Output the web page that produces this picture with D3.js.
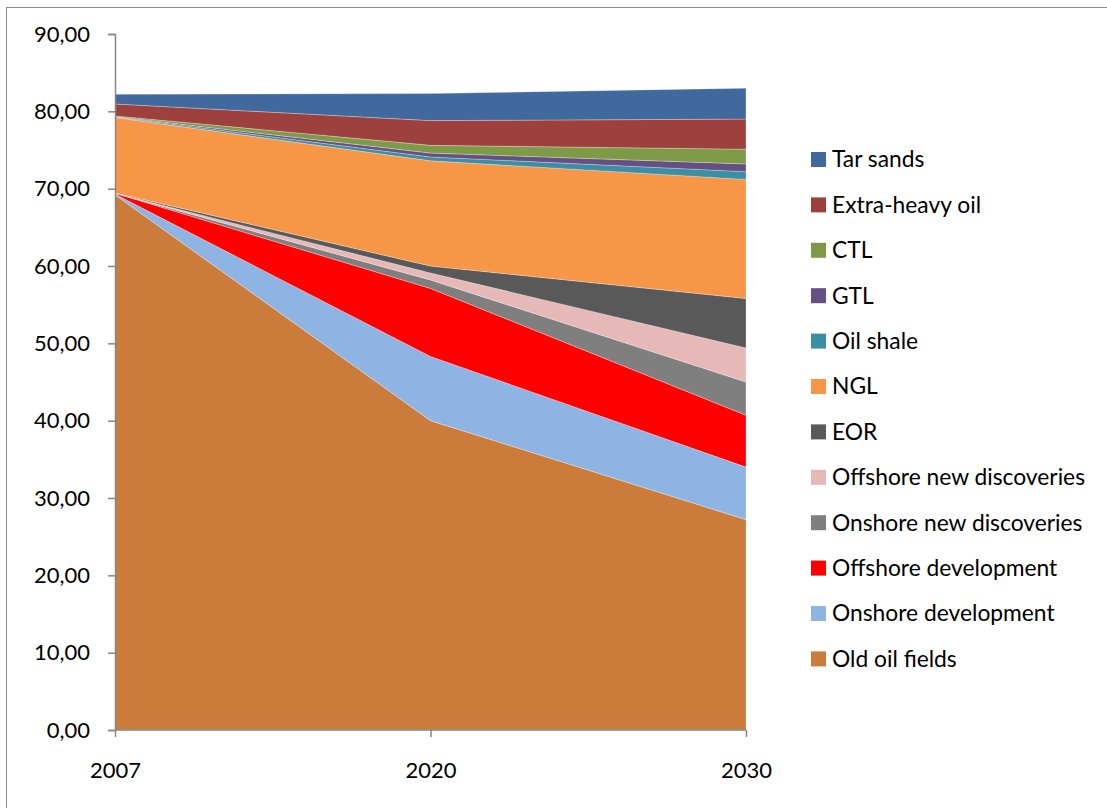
<!DOCTYPE html>
<html>
<head>
<meta charset="utf-8">
<script src="https://cdn.jsdelivr.net/npm/d3@7"></script>
<style>
  html, body { margin: 0; padding: 0; background: #fff; }
  svg { display: block; font-family: Lato, "Open Sans", "Liberation Sans", sans-serif; }
</style>
</head>
<body>
<svg id="chart" width="1107" height="808"></svg>
<script>
// Years on the category axis
const years = ["2007", "2020", "2030"];

// Series, bottom of the stack first (million barrels per day)
const seriesNames = [
  "Old oil fields", "Onshore development", "Offshore development",
  "Onshore new discoveries", "Offshore new discoveries", "EOR", "NGL",
  "Oil shale", "GTL", "CTL", "Extra-heavy oil", "Tar sands"
];

const oldOilFields          = [69.2, 40.0, 27.2];
const onshoreDevelopment    = [0.1, 8.3, 6.8];
const offshoreDevelopment   = [0.1, 8.8, 6.7];
const onshoreNewDiscoveries = [0.0, 1.1, 4.3];
const offshoreNewDiscoveries= [0.0, 0.9, 4.4];
const eor                   = [0.05, 0.9, 6.4];
const ngl                   = [9.75, 13.6, 15.4];
const oilShale              = [0.07, 0.5, 1.0];
const gtl                   = [0.05, 0.5, 1.0];
const ctl                   = [0.08, 1.0, 1.9];
const extraHeavyOil         = [1.55, 3.2, 3.9];
const tarSands              = [1.25, 3.5, 4.0];

const seriesValues = [
  oldOilFields, onshoreDevelopment, offshoreDevelopment, onshoreNewDiscoveries,
  offshoreNewDiscoveries, eor, ngl, oilShale, gtl, ctl, extraHeavyOil, tarSands
];

const seriesColors = [
  "#CB7B3A", "#8EB4E3", "#FF0000", "#7F7F7F", "#E6B9B8", "#595959",
  "#F79646", "#3C8EA4", "#654F83", "#7F9A47", "#9E403D", "#40699D"
];

const yTicks = [0, 10, 20, 30, 40, 50, 60, 70, 80, 90];

// Rows for d3.stack
const rows = years.map((yr, i) => {
  const r = { year: yr };
  seriesNames.forEach((n, k) => { r[n] = seriesValues[k][i]; });
  return r;
});

const svg = d3.select("#chart");

// Chart frame
svg.append("rect")
  .attr("x", 6.5).attr("y", 7.5)
  .attr("width", 1120).attr("height", 820)
  .attr("fill", "none").attr("stroke", "#8c8c8c").attr("stroke-width", 1);

const plot = { left: 115, right: 746, top: 34, bottom: 730 };

const x = d3.scalePoint().domain(years).range([plot.left, plot.right]);
const y = d3.scaleLinear().domain([0, 90]).range([plot.bottom, plot.top]);

const stacked = d3.stack().keys(seriesNames)(rows);

const area = d3.area()
  .x(d => x(d.data.year))
  .y0(d => y(d[0]))
  .y1(d => y(d[1]));

svg.append("g").selectAll("path")
  .data(stacked)
  .join("path")
  .attr("d", area)
  .attr("fill", (d, i) => seriesColors[i])
  .attr("stroke", "rgba(255,255,255,0.35)")
  .attr("stroke-width", 0.8);

// Y axis
const fmt = v => v.toFixed(2).replace(".", ",");
const yAxis = svg.append("g")
  .attr("transform", `translate(${plot.left},0)`)
  .call(d3.axisLeft(y).tickValues(yTicks).tickFormat(fmt).tickSize(7).tickPadding(18));
yAxis.selectAll("path, line").attr("stroke", "#868686").attr("stroke-width", 1.5);
yAxis.selectAll("text").attr("font-size", 22).attr("fill", "#000")
  .attr("font-family", "Lato, 'Open Sans', sans-serif");

// X axis
const xAxis = svg.append("g")
  .attr("transform", `translate(0,${plot.bottom})`)
  .call(d3.axisBottom(x).tickSize(7).tickPadding(25));
xAxis.select("path").attr("d", `M${plot.left},0H${plot.right}`);
xAxis.selectAll("path, line").attr("stroke", "#868686").attr("stroke-width", 1.5);
xAxis.selectAll("text").attr("font-size", 22).attr("fill", "#000")
  .attr("font-family", "Lato, 'Open Sans', sans-serif");

// Legend, top of the stack first
const legendItems = seriesNames.map((n, i) => ({ name: n, color: seriesColors[i] })).reverse();
const legend = svg.append("g").attr("transform", "translate(811,152)");
const item = legend.selectAll("g")
  .data(legendItems)
  .join("g")
  .attr("transform", (d, i) => `translate(0,${i * 45.4})`);
item.append("rect")
  .attr("width", 15).attr("height", 15)
  .attr("fill", d => d.color);
item.append("text")
  .attr("x", 21).attr("y", 7.5)
  .attr("dy", "0.35em")
  .attr("font-size", 22.8)
  .attr("fill", "#000")
  .text(d => d.name);
</script>
</body>
</html>
